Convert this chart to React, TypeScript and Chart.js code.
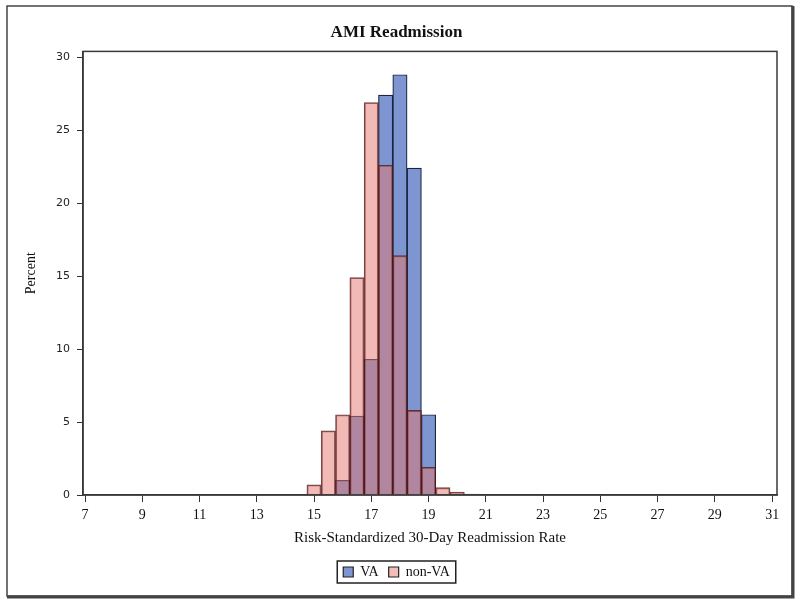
import React, { useEffect, useRef } from "react";
import { Chart, registerables } from "chart.js";

Chart.register(...registerables);

const binCenters = [15, 15.5, 16, 16.5, 17, 17.5, 18, 18.5, 19, 19.5, 20, 20.5];
const vaValues: (number | null)[] = [null, null, 1.0, 5.4, 9.3, 27.4, 28.8, 22.4, 5.5, null, null, null];
const nonVaValues: (number | null)[] = [0.7, 4.4, 5.5, 14.9, 26.9, 22.6, 16.4, 5.8, 1.9, 0.5, 0.2, 0.07];
const xTicks = [7, 9, 11, 13, 15, 17, 19, 21, 23, 25, 27, 29, 31];
const yTicks = [0, 5, 10, 15, 20, 25, 30];

const SERIF = "'Liberation Serif', 'Times New Roman', serif";
const SANS = "'DejaVu Sans', sans-serif";

const framePlugin = {
  id: "frames",
  afterDraw(chart: any) {
    const ctx = chart.ctx;
    const a = chart.chartArea;
    ctx.save();
    ctx.strokeStyle = "#3a3a3a";
    ctx.lineWidth = 1.5;
    ctx.strokeRect(a.left, a.top, a.right - a.left, a.bottom - a.top);
    ctx.strokeStyle = "#444";
    ctx.lineWidth = 1.5;
    ctx.strokeRect(7, 6, 785, 590);
    ctx.lineWidth = 3;
    ctx.beginPath();
    ctx.moveTo(793, 6);
    ctx.lineTo(793, 597);
    ctx.lineTo(7, 597);
    ctx.stroke();
    const lg = chart.legend;
    if (lg && lg.legendHitBoxes && lg.legendHitBoxes.length) {
      let l = Infinity, r = -Infinity, t = Infinity, b = -Infinity;
      lg.legendHitBoxes.forEach((h: any) => {
        l = Math.min(l, h.left);
        r = Math.max(r, h.left + h.width);
        t = Math.min(t, h.top);
        b = Math.max(b, h.top + h.height);
      });
      ctx.strokeStyle = "#222";
      ctx.lineWidth = 1.5;
      ctx.strokeRect(l - 6, t - 4, r - l + 12, b - t + 8);
    }
    ctx.restore();
  },
};

export default function App() {
  const ref = useRef<HTMLCanvasElement | null>(null);
  useEffect(() => {
    if (!ref.current) return;
    const chart = new Chart(ref.current, {
      type: "bar",
      data: {
        datasets: [
          {
            label: "VA",
            data: binCenters.map((x, i) => ({ x, y: vaValues[i] })) as any,
            backgroundColor: "rgb(125,150,210)",
            borderColor: "#1c2540",
            borderWidth: 1.2,
            grouped: false,
            barPercentage: 1,
            categoryPercentage: 1,
            order: 1,
          } as any,
          {
            label: "non-VA",
            data: binCenters.map((x, i) => ({ x, y: nonVaValues[i] })) as any,
            backgroundColor: "rgba(230,118,110,0.5)",
            borderColor: "rgba(80,25,25,0.8)",
            borderWidth: 1.2,
            grouped: false,
            barPercentage: 1,
            categoryPercentage: 1,
            order: 0,
          } as any,
        ],
      },
      options: {
        animation: false,
        responsive: false,
        maintainAspectRatio: false,
        layout: { padding: { left: 16, right: 23, top: 0, bottom: 14 } },
        plugins: {
          title: {
            display: true,
            text: "AMI Readmission",
            color: "#111",
            font: { family: SERIF, size: 17, weight: "bold" },
            padding: { top: 22, bottom: 9 },
          },
          legend: {
            position: "bottom",
            labels: {
              color: "#111",
              font: { family: SERIF, size: 14 },
              boxWidth: 10,
              boxHeight: 10,
              padding: 10,
              generateLabels: (chart: any) =>
                chart.data.datasets.map((d: any, i: number) => ({
                  text: d.label,
                  fillStyle: i === 0 ? "rgb(125,150,210)" : "rgb(242,188,184)",
                  strokeStyle: "#222",
                  lineWidth: 1.2,
                  fontColor: "#111",
                  datasetIndex: i,
                  hidden: false,
                })),
            },
          },
          tooltip: { enabled: false },
        },
        scales: {
          x: {
            type: "linear",
            offset: false,
            min: 6.93,
            max: 31.17,
            afterBuildTicks: (s: any) => {
              s.ticks = xTicks.map((v) => ({ value: v }));
            },
            afterFit: (s: any) => {
              s.height = 60;
            },
            grid: {
              display: true,
              offset: false,
              drawOnChartArea: false,
              drawTicks: true,
              tickLength: 7,
              color: "#333",
            },
            border: { display: true, color: "#333", width: 1.5 },
            ticks: {
              color: "#111",
              font: { family: SERIF, size: 14 },
              padding: 5,
              maxRotation: 0,
              autoSkip: false,
              callback: (v: any) => String(v),
            },
            title: {
              display: true,
              text: "Risk-Standardized 30-Day Readmission Rate",
              color: "#111",
              font: { family: SERIF, size: 15 },
              padding: { top: 4, bottom: 8 },
            },
          },
          y: {
            min: 0,
            max: 30.4,
            afterBuildTicks: (s: any) => {
              s.ticks = yTicks.map((v) => ({ value: v }));
            },
            afterFit: (s: any) => {
              s.width = 67;
            },
            grid: {
              display: true,
              drawOnChartArea: false,
              drawTicks: true,
              tickLength: 6,
              color: "#333",
            },
            border: { display: true, color: "#333", width: 1.5 },
            ticks: {
              color: "#222",
              font: { family: SANS, size: 11 },
              padding: 7,
              callback: (v: any) => String(v),
            },
            title: {
              display: true,
              text: "Percent",
              color: "#111",
              font: { family: SERIF, size: 14 },
              padding: { top: 7, bottom: 0 },
            },
          },
        },
      },
      plugins: [framePlugin],
    });
    return () => chart.destroy();
  }, []);
  return (
    <div style={{ position: "absolute", left: 0, top: 0, width: 800, height: 603, background: "#fff" }}>
      <canvas ref={ref} width={800} height={603} style={{ display: "block" }} />
    </div>
  );
}
